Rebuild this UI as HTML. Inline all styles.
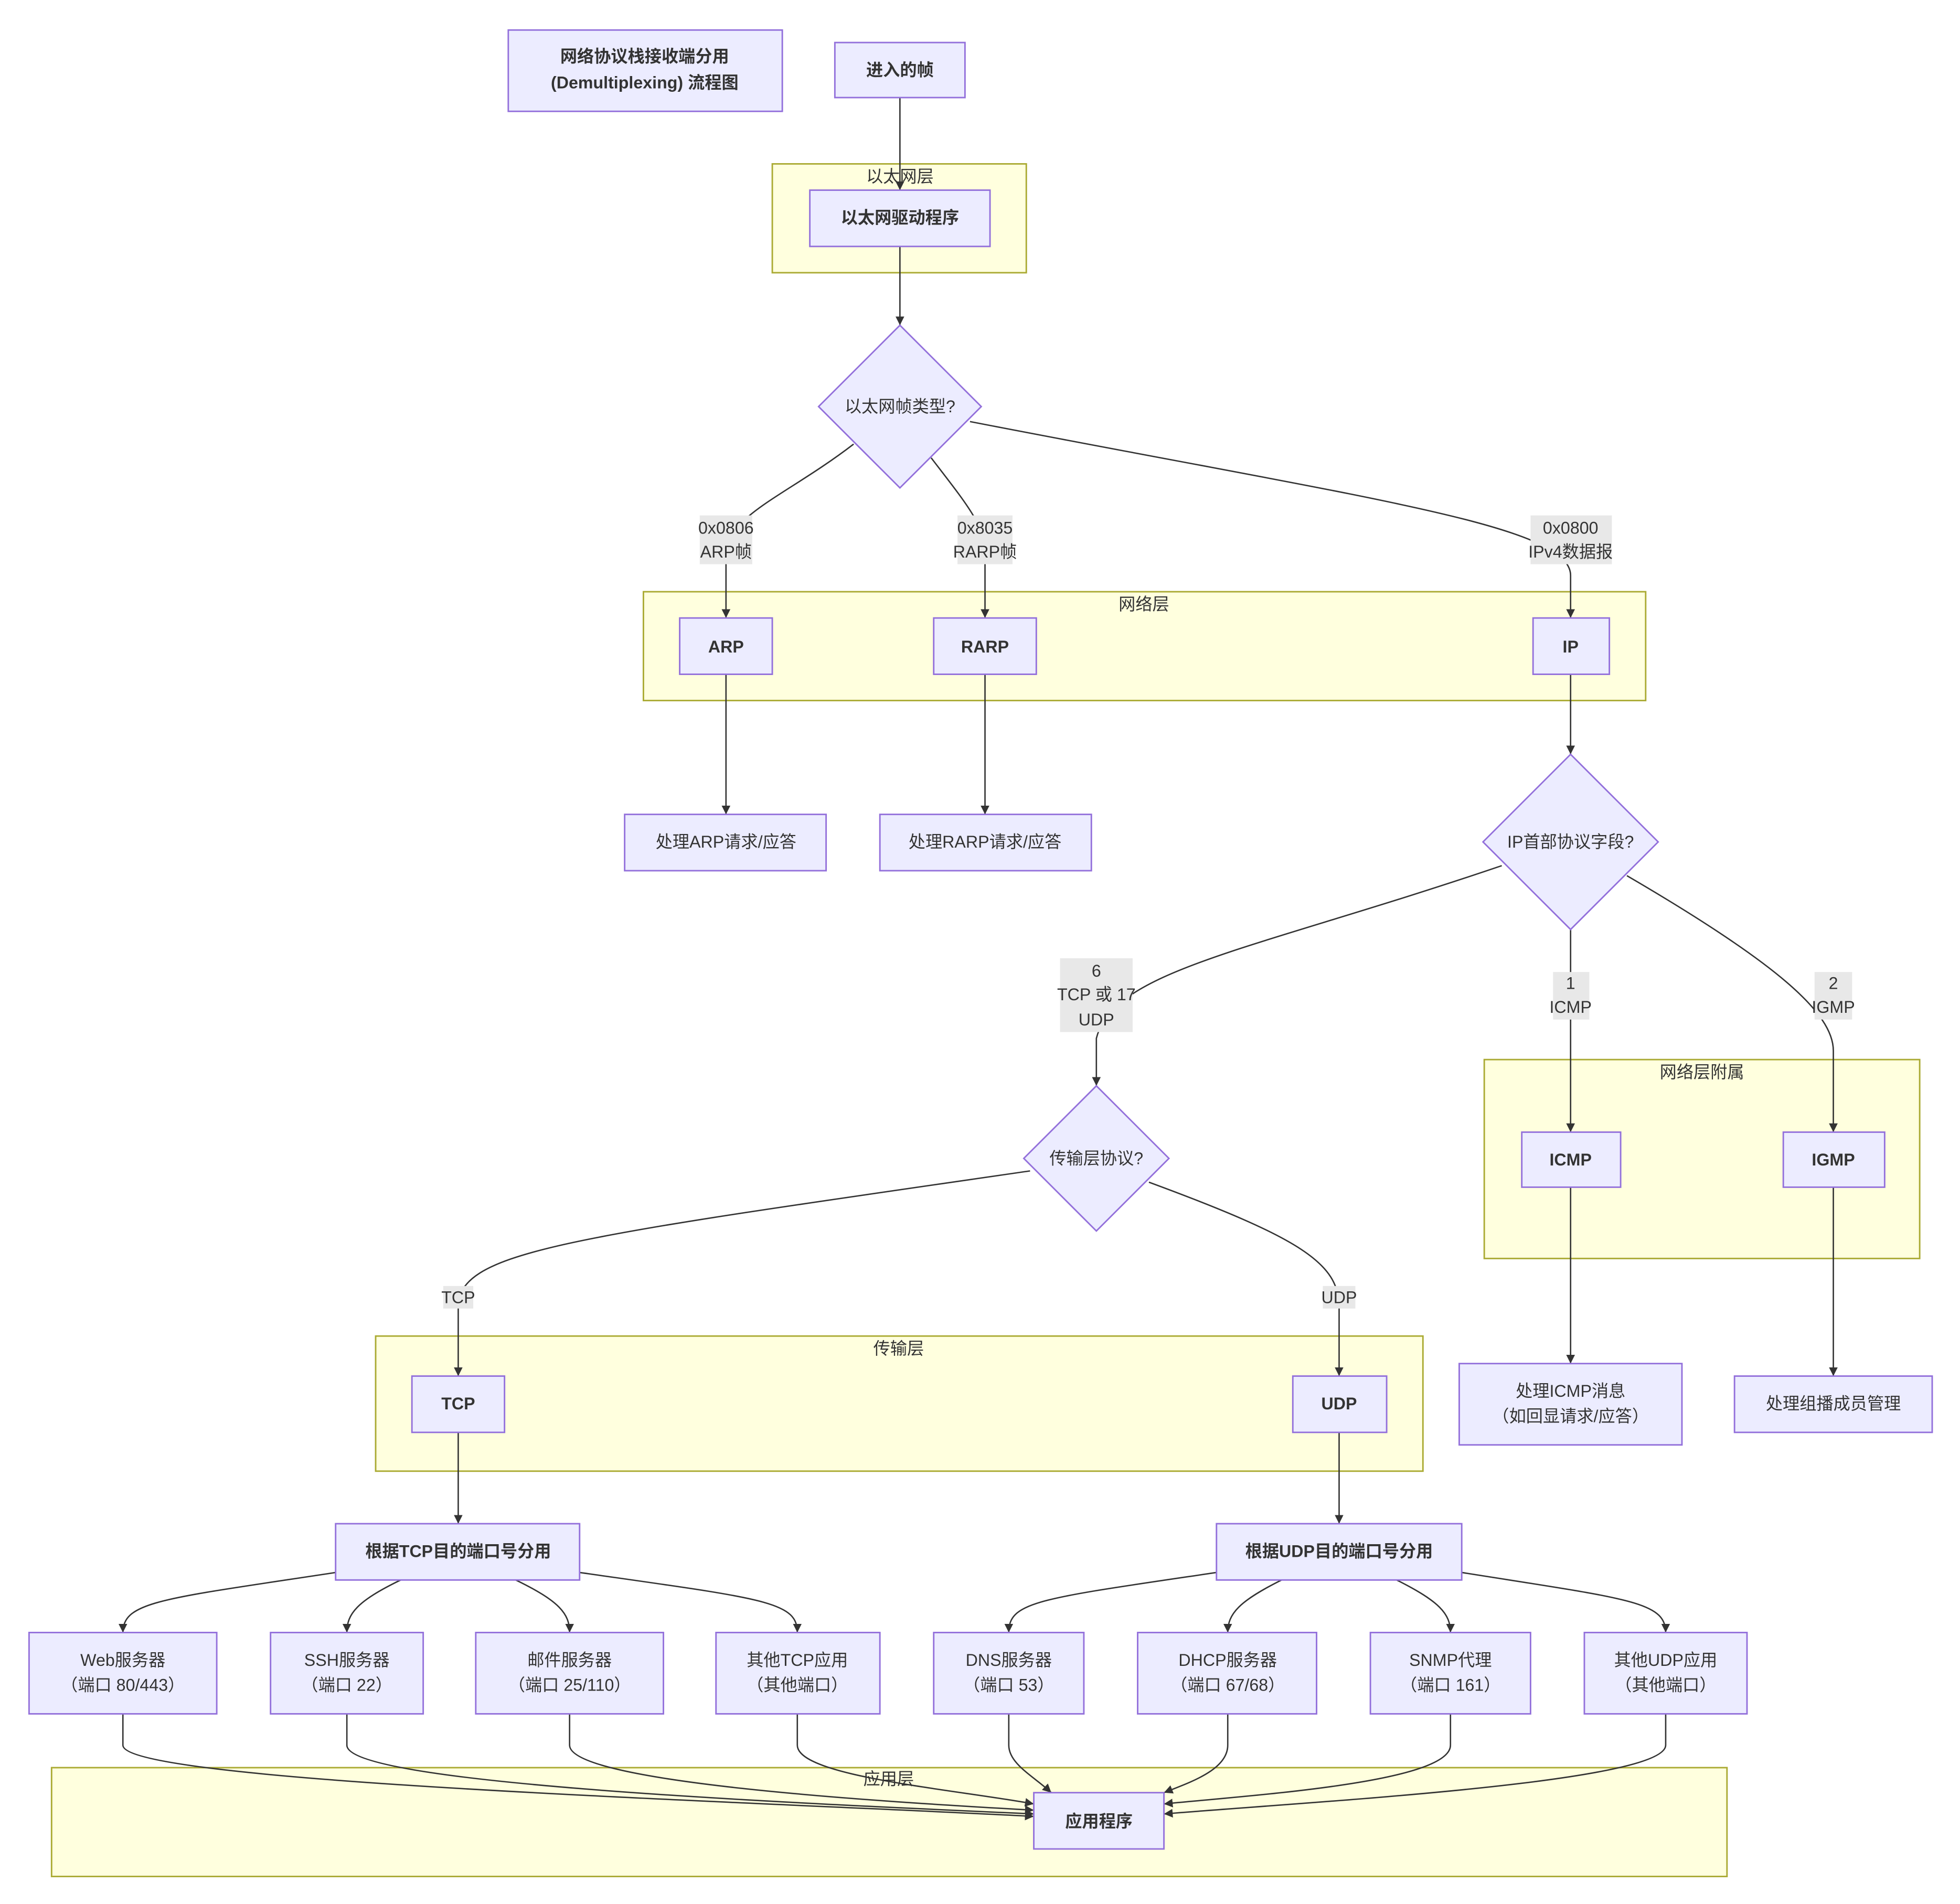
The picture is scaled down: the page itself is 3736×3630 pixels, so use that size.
<!DOCTYPE html>
<html><head><meta charset="utf-8"><style>
html,body{margin:0;padding:0;background:#fff;}
svg{display:block;}
text{font-family:"Liberation Sans","Noto Sans CJK SC",sans-serif;font-size:13.5px;fill:#333;text-anchor:middle;dominant-baseline:central;}
.b{font-weight:bold;}
.n{fill:#ECECFF;stroke:#9370DB;stroke-width:1.2;}
.c{fill:#ffffde;stroke:#aaaa33;stroke-width:1.2;}
.e{fill:none;stroke:#333;stroke-width:1.1;}
.l{fill:#e8e8e8;stroke:none;}
</style></head><body>
<svg width="3736" height="3630" viewBox="0 0 1566 1522" xmlns="http://www.w3.org/2000/svg">
<defs><marker id="a" viewBox="0 0 10 10" refX="10" refY="5" markerWidth="7" markerHeight="8" markerUnits="userSpaceOnUse" orient="auto"><path d="M0,0L10,5L0,10z" fill="#333"/></marker></defs>

<!-- clusters -->
<rect class="c" x="617" y="131" width="203" height="87"/>
<rect class="c" x="514" y="473" width="801" height="87"/>
<rect class="c" x="1186" y="847" width="348" height="159"/>
<rect class="c" x="300" y="1068" width="837" height="108"/>
<rect class="c" x="41" y="1413" width="1339" height="87"/>
<text x="719" y="141">以太网层</text>
<text x="914" y="483">网络层</text>
<text x="1360" y="857">网络层附属</text>
<text x="718" y="1078">传输层</text>
<text x="710" y="1422">应用层</text>

<!-- edges -->
<path class="e" d="M719,78V152" marker-end="url(#a)"/>
<path class="e" d="M719,197V260" marker-end="url(#a)"/>
<path class="e" d="M682,355C630,395 585,410 580,440V494" marker-end="url(#a)"/>
<path class="e" d="M744,366C770,400 787,420 787,440V494" marker-end="url(#a)"/>
<path class="e" d="M775,337C1100,400 1255,420 1255,460V494" marker-end="url(#a)"/>
<path class="e" d="M580,539V651" marker-end="url(#a)"/>
<path class="e" d="M787,539V651" marker-end="url(#a)"/>
<path class="e" d="M1255,539V603" marker-end="url(#a)"/>
<path class="e" d="M1200,692C1000,760 890,775 876,830V868" marker-end="url(#a)"/>
<path class="e" d="M1255,743V905" marker-end="url(#a)"/>
<path class="e" d="M1300,700C1420,770 1465,810 1465,840V905" marker-end="url(#a)"/>
<path class="e" d="M823,936C450,990 366,1000 366,1045V1100" marker-end="url(#a)"/>
<path class="e" d="M918,945C1040,990 1070,1010 1070,1045V1100" marker-end="url(#a)"/>
<path class="e" d="M1255,949V1090" marker-end="url(#a)"/>
<path class="e" d="M1465,949V1100" marker-end="url(#a)"/>
<path class="e" d="M366,1145V1218" marker-end="url(#a)"/>
<path class="e" d="M1070,1145V1218" marker-end="url(#a)"/>
<!-- tcp fan -->
<path class="e" d="M268,1257C130,1278 98,1280 98,1305" marker-end="url(#a)"/>
<path class="e" d="M320,1263C285,1280 277,1290 277,1305" marker-end="url(#a)"/>
<path class="e" d="M412,1263C447,1280 455,1290 455,1305" marker-end="url(#a)"/>
<path class="e" d="M463,1257C610,1278 637,1280 637,1305" marker-end="url(#a)"/>
<path class="e" d="M972,1257C830,1278 806,1280 806,1305" marker-end="url(#a)"/>
<path class="e" d="M1024,1263C990,1280 981,1290 981,1305" marker-end="url(#a)"/>
<path class="e" d="M1116,1263C1150,1280 1159,1290 1159,1305" marker-end="url(#a)"/>
<path class="e" d="M1168,1257C1300,1278 1331,1280 1331,1305" marker-end="url(#a)"/>
<!-- to app -->
<path class="e" d="M98,1370V1395C98,1425 600,1440 826,1452" marker-end="url(#a)"/>
<path class="e" d="M277,1370V1395C277,1425 600,1440 826,1450" marker-end="url(#a)"/>
<path class="e" d="M455,1370V1395C455,1425 700,1440 826,1447" marker-end="url(#a)"/>
<path class="e" d="M637,1370V1395C637,1420 760,1430 826,1442" marker-end="url(#a)"/>
<path class="e" d="M806,1370V1395C806,1410 826,1420 840,1433" marker-end="url(#a)"/>
<path class="e" d="M981,1370V1395C981,1415 950,1425 930,1433" marker-end="url(#a)"/>
<path class="e" d="M1159,1370V1395C1159,1425 1000,1435 930,1442" marker-end="url(#a)"/>
<path class="e" d="M1331,1370V1395C1331,1425 1050,1440 930,1450" marker-end="url(#a)"/>

<!-- edge labels -->
<rect class="l" x="559" y="412" width="42" height="39"/>
<text x="580" y="422">0x0806</text><text x="580" y="441">ARP帧</text>
<rect class="l" x="765" y="412" width="44" height="39"/>
<text x="787" y="422">0x8035</text><text x="787" y="441">RARP帧</text>
<rect class="l" x="1223" y="412" width="65" height="39"/>
<text x="1255" y="422">0x0800</text><text x="1255" y="441">IPv4数据报</text>
<rect class="l" x="847" y="766" width="58" height="59"/>
<text x="876" y="776">6</text><text x="876" y="795">TCP 或 17</text><text x="876" y="815">UDP</text>
<rect class="l" x="1241" y="777" width="29" height="38"/>
<text x="1255" y="786">1</text><text x="1255" y="805">ICMP</text>
<rect class="l" x="1450" y="777" width="30" height="38"/>
<text x="1465" y="786">2</text><text x="1465" y="805">IGMP</text>
<rect class="l" x="354" y="1028" width="24" height="18"/><text x="366" y="1037">TCP</text>
<rect class="l" x="1057" y="1028" width="26" height="18"/><text x="1070" y="1037">UDP</text>

<!-- nodes -->
<rect class="n" x="406" y="24" width="219" height="65"/>
<text class="b" x="515" y="45">网络协议栈接收端分用</text>
<text class="b" x="515" y="66">(Demultiplexing) 流程图</text>
<rect class="n" x="667" y="34" width="104" height="44"/><text class="b" x="719" y="56">进入的帧</text>
<rect class="n" x="647" y="152" width="144" height="45"/><text class="b" x="719" y="174">以太网驱动程序</text>
<polygon class="n" points="719,260 784,325 719,390 654,325"/><text x="719" y="325">以太网帧类型?</text>
<rect class="n" x="543" y="494" width="74" height="45"/><text class="b" x="580" y="517">ARP</text>
<rect class="n" x="746" y="494" width="82" height="45"/><text class="b" x="787" y="517">RARP</text>
<rect class="n" x="1225" y="494" width="61" height="45"/><text class="b" x="1255" y="517">IP</text>
<rect class="n" x="499" y="651" width="161" height="45"/><text x="580" y="673">处理ARP请求/应答</text>
<rect class="n" x="703" y="651" width="169" height="45"/><text x="787" y="673">处理RARP请求/应答</text>
<polygon class="n" points="1255,603 1325,673 1255,743 1185,673"/><text x="1255" y="673">IP首部协议字段?</text>
<rect class="n" x="1216" y="905" width="79" height="44"/><text class="b" x="1255" y="927">ICMP</text>
<rect class="n" x="1425" y="905" width="81" height="44"/><text class="b" x="1465" y="927">IGMP</text>
<polygon class="n" points="876,868 934,926 876,984 818,926"/><text x="876" y="926">传输层协议?</text>
<rect class="n" x="1166" y="1090" width="178" height="65"/>
<text x="1255" y="1112">处理ICMP消息</text><text x="1255" y="1132">（如回显请求/应答）</text>
<rect class="n" x="1386" y="1100" width="158" height="45"/><text x="1465" y="1122">处理组播成员管理</text>
<rect class="n" x="329" y="1100" width="74" height="45"/><text class="b" x="366" y="1122">TCP</text>
<rect class="n" x="1033" y="1100" width="75" height="45"/><text class="b" x="1070" y="1122">UDP</text>
<rect class="n" x="268" y="1218" width="195" height="45"/><text class="b" x="366" y="1240">根据TCP目的端口号分用</text>
<rect class="n" x="972" y="1218" width="196" height="45"/><text class="b" x="1070" y="1240">根据UDP目的端口号分用</text>

<rect class="n" x="23" y="1305" width="150" height="65"/><text x="98" y="1327">Web服务器</text><text x="98" y="1347">（端口 80/443）</text>
<rect class="n" x="216" y="1305" width="122" height="65"/><text x="277" y="1327">SSH服务器</text><text x="277" y="1347">（端口 22）</text>
<rect class="n" x="380" y="1305" width="150" height="65"/><text x="455" y="1327">邮件服务器</text><text x="455" y="1347">（端口 25/110）</text>
<rect class="n" x="572" y="1305" width="131" height="65"/><text x="637" y="1327">其他TCP应用</text><text x="637" y="1347">（其他端口）</text>
<rect class="n" x="746" y="1305" width="120" height="65"/><text x="806" y="1327">DNS服务器</text><text x="806" y="1347">（端口 53）</text>
<rect class="n" x="909" y="1305" width="143" height="65"/><text x="981" y="1327">DHCP服务器</text><text x="981" y="1347">（端口 67/68）</text>
<rect class="n" x="1095" y="1305" width="128" height="65"/><text x="1159" y="1327">SNMP代理</text><text x="1159" y="1347">（端口 161）</text>
<rect class="n" x="1266" y="1305" width="130" height="65"/><text x="1331" y="1327">其他UDP应用</text><text x="1331" y="1347">（其他端口）</text>
<rect class="n" x="826" y="1433" width="104" height="45"/><text class="b" x="878" y="1456">应用程序</text>
</svg>
</body></html>
